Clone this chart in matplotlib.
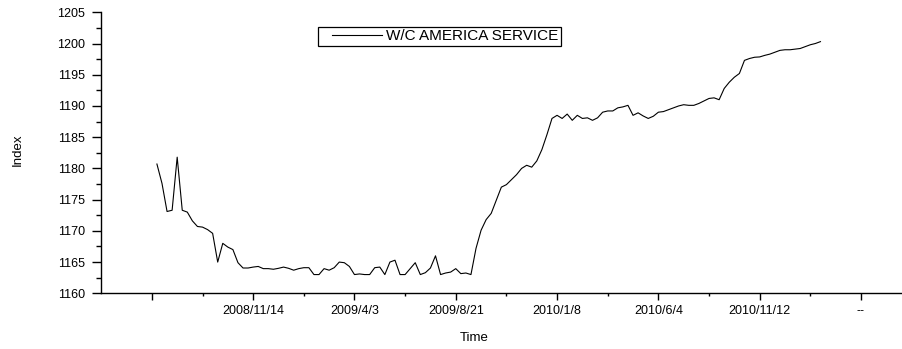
import matplotlib.pyplot as plt
from matplotlib.ticker import MultipleLocator, FixedLocator
from matplotlib.legend_handler import HandlerLine2D

plt.rcParams['font.family'] = ['Liberation Sans', 'DejaVu Sans']

# weekly W/C America service index, week 1 .. 132
service_index = [
    1180.7, 1177.6, 1173.1, 1173.3, 1181.8, 1173.3, 1173.0, 1171.6, 1170.7, 1170.6,
    1170.2, 1169.6, 1165.0, 1168.0, 1167.4, 1167.0, 1164.9, 1164.05, 1164.05, 1164.2,
    1164.3, 1163.95, 1163.95, 1163.85, 1164.0, 1164.2, 1164.0, 1163.7, 1163.95, 1164.1,
    1164.1, 1163.0, 1163.0, 1163.95, 1163.7, 1164.1, 1165.0, 1164.9, 1164.3, 1163.0,
    1163.1, 1163.0, 1163.0, 1164.1, 1164.2, 1163.0, 1165.0, 1165.3, 1163.0, 1163.0,
    1163.95, 1164.9, 1163.0, 1163.3, 1164.05, 1166.0, 1163.0, 1163.25, 1163.4, 1163.95,
    1163.15, 1163.25, 1163.0, 1167.2, 1170.1, 1171.8, 1172.8, 1174.9, 1177.0, 1177.4,
    1178.2, 1179.0, 1180.0, 1180.5, 1180.2, 1181.2, 1183.0, 1185.4, 1188.0, 1188.5,
    1188.0, 1188.7, 1187.7, 1188.5, 1188.0, 1188.1, 1187.7, 1188.1, 1189.0, 1189.2,
    1189.2, 1189.7, 1189.85, 1190.1, 1188.5, 1188.9, 1188.4, 1188.0, 1188.35, 1189.0,
    1189.1, 1189.4, 1189.7, 1190.0, 1190.2, 1190.1, 1190.1, 1190.4, 1190.8, 1191.2,
    1191.3, 1191.0, 1192.8, 1193.8, 1194.6, 1195.2, 1197.3, 1197.6, 1197.8, 1197.85,
    1198.1, 1198.3, 1198.6, 1198.9, 1199.0, 1199.0, 1199.1, 1199.2, 1199.5, 1199.8,
    1200.0, 1200.3,
]
week_no = list(range(1, len(service_index) + 1))

date_labels = ['', '2008/11/14', '2009/4/3', '2009/8/21', '2010/1/8',
               '2010/6/4', '2010/11/12', '--']
label_step = 20

fig = plt.figure(figsize=(9.03, 3.49), dpi=100)
ax = fig.add_axes([100.7 / 903, 0.1596, 1 - 100.7 / 903, 0.9648 - 0.1596])

line, = ax.plot(week_no, service_index, color='black', linewidth=0.8,
                label='W/C AMERICA SERVICE')

ax.set_xlim(-10.1, 148.3)
ax.set_ylim(1160, 1205)

# spines like the Origin default: left and bottom only
for side in ['top', 'right']:
    ax.spines[side].set_visible(False)
for side in ['left', 'bottom']:
    ax.spines[side].set_linewidth(1.0)

major_x = [i * label_step for i in range(len(date_labels))]
ax.set_xticks(major_x)
ax.set_xticklabels(date_labels)
ax.xaxis.set_minor_locator(FixedLocator([m + label_step / 2 for m in major_x]))
ax.yaxis.set_major_locator(MultipleLocator(5))
ax.yaxis.set_minor_locator(MultipleLocator(2.5))

ax.tick_params(axis='x', which='major', direction='out', length=4.8, width=1.0,
               pad=3.5, labelsize=9)
ax.tick_params(axis='x', which='minor', direction='out', length=2.4, width=1.0)
ax.tick_params(axis='y', which='major', direction='out', length=6.5, width=1.0,
               pad=4.5, labelsize=9)
ax.tick_params(axis='y', which='minor', direction='out', length=3.4, width=1.0)

ax.set_ylabel('Index', fontsize=9.5, va='center')
ax.yaxis.set_label_coords(-0.103, 0.51)
ax.set_xlabel('Time', fontsize=9.5, va='center')
ax.xaxis.set_label_coords(0.466, -0.159)

# legend line sample sits a bit in from the frame edge
leg = ax.legend(loc='center', bbox_to_anchor=(0.422, 0.914), fontsize=11,
                frameon=True, fancybox=False, framealpha=1, edgecolor='black',
                handlelength=4.0, handletextpad=0.25, borderpad=0.18,
                handler_map={line: HandlerLine2D(xpad=0.75)})
leg.get_frame().set_linewidth(0.9)

fig.savefig('out.png', dpi=100)
